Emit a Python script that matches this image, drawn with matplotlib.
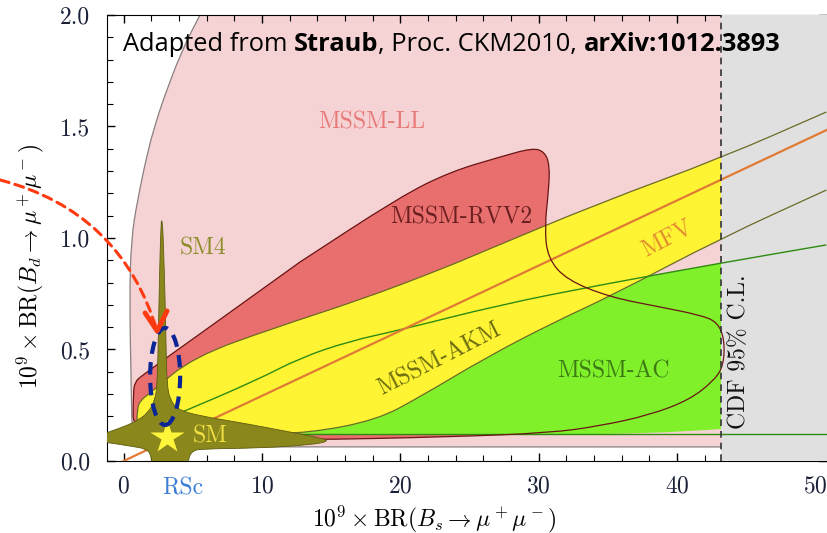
import matplotlib
matplotlib.use('Agg')
from matplotlib import pyplot as plt
from matplotlib.patches import PathPatch, Ellipse
from matplotlib.path import Path
from matplotlib.ticker import MultipleLocator, FormatStrFormatter

plt.rcParams['font.family'] = 'serif'
plt.rcParams['font.serif'] = ['cmr10']
plt.rcParams['mathtext.fontset'] = 'cm'
plt.rcParams['axes.formatter.use_mathtext'] = True

fontsize = 17
ticksize = 17

# x = 10^9 BR(Bs -> mu mu), y = 10^9 BR(Bd -> mu mu)
cdf_limit = 43.2

# MSSM-LL
ll_x = [60.0, 6.5, 5.52, 4.22, 2.85, 2.28, 1.77, 1.0, 0.54, 0.43, 0.54, 0.61, 0.90, 1.5, 60.0]
ll_y = [2.1, 2.1, 2.0, 1.843, 1.619, 1.507, 1.395, 1.17, 0.991, 0.722, 0.363, 0.117, 0.067, 0.063, 0.063]

# MSSM-RVV2
rvv_x = [12.74, 5.52, 1.26, 0.83, 0.69, 0.69, 12.74, 23.57, 30.79, 34.40, 38.01, 40.90, 42.71,
         43.36, 43.43, 42.93, 41.63, 38.74, 35.13, 32.02, 30.65, 30.43, 30.72, 30.79, 30.43,
         29.57, 27.18, 23.57, 19.96, 12.74]
rvv_y = [0.892, 0.570, 0.381, 0.354, 0.309, 0.094, 0.094, 0.108, 0.126, 0.157, 0.206, 0.274, 0.363,
         0.430, 0.543, 0.623, 0.655, 0.691, 0.735, 0.812, 0.910, 1.049, 1.215, 1.327, 1.386,
         1.404, 1.363, 1.296, 1.184, 0.892]

# MSSM-AC: upper edge, lower edge is flat
ac_x = [1.92, 4.08, 9.64, 12.74, 16.35, 19.96, 27.18, 34.40, 43.21, 50.79]
ac_y = [0.161, 0.215, 0.363, 0.462, 0.538, 0.587, 0.700, 0.789, 0.888, 0.969]
ac_bottom = 0.119

# MSSM-AKM + MFV band, outline starting at the upper right end
akm_x = [50.79, 43.21, 34.40, 26.25, 22.85, 17.08, 11.08, 5.02, 1.91, 1.26, 0.97, 0.97,
         1.91, 9.13, 13.47, 18.30, 21.41, 26.25, 31.00, 35.34, 43.21, 50.79]
akm_y = [1.565, 1.359, 1.157, 0.946, 0.857, 0.722, 0.601, 0.466, 0.305, 0.274, 0.238, 0.130,
         0.126, 0.121, 0.126, 0.184, 0.287, 0.466, 0.619, 0.744, 1.000, 1.215]

# MFV central line
mfv_x = [0.0, 50.8]
mfv_y = [0.0, 1.484]

# SM4 spike and SM blob
sm4_x = [-2.06, -0.25, 0.83, 1.77, 2.27, 2.42, 2.49, 2.56, 2.64, 2.71, 2.74, 2.82, 2.89,
         3.00, 3.07, 3.14, 3.36, 3.94, 5.52, 8.63, 12.02, 13.83, 14.98, 13.47, 9.86,
         5.52, 5.02, 4.73, 4.66, 2.06, 1.99, 1.70, 0.47, -0.97, -2.06]
sm4_y = [0.108, 0.148, 0.175, 0.215, 0.274, 0.341, 0.498, 0.722, 0.946, 1.058, 1.085, 1.058, 0.946,
         0.722, 0.498, 0.341, 0.274, 0.229, 0.202, 0.170, 0.130, 0.108, 0.090, 0.072, 0.058,
         0.054, 0.045, 0.022, -0.02, -0.02, 0.022, 0.054, 0.067, 0.081, 0.090]
sm_point = (3.14, 0.108)

# RS-c highlight and pointer
rsc_center = (3.0, 0.379)
rsc_size = (2.17, 0.435)
arrow_start = (-8.92, 1.26)
arrow_tip = (2.42, 0.583)
arrow_head_x = [1.55, 2.42, 3.14]
arrow_head_y = [0.664, 0.583, 0.673]


def smooth_path(xs, ys, closed=False):
    # quadratic curves through the midpoints, corners get rounded a bit
    pts = list(zip(xs, ys))
    if closed:
        pts = pts + [pts[0], pts[1]]
    mids = [((a[0] + b[0]) / 2, (a[1] + b[1]) / 2) for a, b in zip(pts[:-1], pts[1:])]
    if closed:
        verts = [mids[0]]
        codes = [Path.MOVETO]
    else:
        verts = [pts[0], mids[0]]
        codes = [Path.MOVETO, Path.LINETO]
    for i in range(1, len(pts) - 1):
        verts += [pts[i], mids[i]]
        codes += [Path.CURVE3, Path.CURVE3]
    if not closed:
        verts.append(pts[-1])
        codes.append(Path.LINETO)
    return Path(verts, codes)


fig = plt.figure(figsize=(8.27, 5.33), dpi=100)
ax = fig.add_axes([0.1294, 0.1351, 0.8700, 0.8368])
ax.set_xlim(-1.2, 50.8)
ax.set_ylim(0, 2.0)

ll_path = smooth_path(ll_x, ll_y)
ax.add_patch(PathPatch(ll_path, fc='#f5d2d3', ec='none', zorder=1))
ax.add_patch(PathPatch(smooth_path(ll_x[2:-1] + [cdf_limit], ll_y[2:-1] + [0.063]),
                       fill=False, ec='#8a8080', lw=0.9, zorder=1.5))

rvv_path = smooth_path(rvv_x, rvv_y, closed=True)
ax.add_patch(PathPatch(rvv_path, fc='#e96e6e', ec='none', zorder=2))

ac_path = smooth_path(ac_x, ac_y)
ac_fill = smooth_path(ac_x + [60.0, 60.0, ac_x[0], ac_x[0]],
                      ac_y + [ac_y[-1], ac_bottom, ac_bottom, ac_y[0]])
ax.add_patch(PathPatch(ac_fill, fc='#80f02b', ec='none', zorder=3))

akm_path = smooth_path(akm_x, akm_y)
ax.add_patch(PathPatch(akm_path, fc='#fff433', ec='none', zorder=4))

# excluded by CDF
ax.axvspan(cdf_limit, 60, color='#e0e0e0', zorder=5, lw=0)

ax.add_patch(PathPatch(akm_path, fill=False, ec='#6b6b25', lw=0.9, zorder=6))
ax.add_patch(PathPatch(ac_path, fill=False, ec='#2f8a12', lw=1.0, zorder=6))
ax.plot([ac_x[0], 60], [ac_bottom, ac_bottom], color='#2f8a12', lw=1.0, zorder=6)
ax.plot(mfv_x, mfv_y, color='#e07a35', lw=1.6, zorder=6)
ax.add_patch(PathPatch(rvv_path, fill=False, ec='#6a1414', lw=0.9, zorder=6))
ax.axvline(cdf_limit, color='#333333', lw=1.2, ls=(0, (4, 3)), zorder=7)

ax.add_patch(PathPatch(smooth_path(sm4_x, sm4_y, closed=True), fc='#8a881c', ec='#5e5c10',
                       lw=0.6, zorder=8))
ax.plot(*sm_point, marker='*', ms=25, color='#fff53a', mec='none', zorder=9)

ax.add_patch(Ellipse(rsc_center, *rsc_size, fill=False, ec='#0b2596', lw=3, ls=(0, (3, 2)), zorder=10))
ax.annotate('', xy=arrow_tip, xytext=arrow_start, annotation_clip=False,
            arrowprops=dict(arrowstyle='-', color='#ff3a10', lw=2.2, ls=(0, (3, 2)),
                            connectionstyle='arc3,rad=-0.28', shrinkA=0, shrinkB=0))
ax.plot(arrow_head_x, arrow_head_y, color='#ff3a10', lw=3.5, clip_on=False, zorder=11,
        solid_capstyle='round')

# region labels
ax.text(14.04, 1.52, 'MSSM-LL', color='#e87a7a', fontsize=fontsize, va='center', zorder=12)
ax.text(19.24, 1.09, 'MSSM-RVV2', color='#6a2020', fontsize=fontsize, va='center', zorder=12)
ax.text(39.3, 1.0, 'MFV', color='#e08a30', fontsize=fontsize, ha='center', va='center',
        rotation=28, zorder=12)
ax.text(22.85, 0.455, 'MSSM-AKM', color='#6b6b10', fontsize=fontsize, ha='center', va='center',
        rotation=27, zorder=12)
ax.text(31.3, 0.40, 'MSSM-AC', color='#3d7a14', fontsize=fontsize, va='center', zorder=12)
ax.text(44.5, 0.49, 'CDF 95% C.L.', color='#111111', fontsize=fontsize, ha='center', va='center',
        rotation=90, zorder=12)
ax.text(4.08, 0.955, 'SM4', color='#8c8c28', fontsize=fontsize, va='center', zorder=12)
ax.text(5.02, 0.108, 'SM', color='#f0e040', fontsize=fontsize, va='center', zorder=12)
ax.text(4.3, -0.121, 'RSc', color='#3a7fd5', fontsize=ticksize, ha='center', va='center', clip_on=False)

# credit line, mixed weights
credit = [('Adapted from ', 'normal'), ('Straub', 'bold'),
          (', Proc. CKM2010, ', 'normal'), ('arXiv:1012.3893', 'bold')]
prev = None
for txt, weight in credit:
    if prev is None:
        prev = ax.text(0.022, 0.906, txt, transform=ax.transAxes, family='Open Sans',
                       fontsize=18.3, fontweight=weight, va='bottom', zorder=12)
    else:
        prev = ax.annotate(txt, xy=(1, 0), xycoords=prev, family='Open Sans', fontsize=18.3,
                           fontweight=weight, va='bottom', zorder=12)

ax.set_xticks([0, 10, 20, 30, 40, 50])
ax.xaxis.set_minor_locator(MultipleLocator(2))
ax.set_yticks([0.0, 0.5, 1.0, 1.5, 2.0])
ax.yaxis.set_minor_locator(MultipleLocator(0.1))
ax.yaxis.set_major_formatter(FormatStrFormatter('%.1f'))
ax.tick_params(which='both', direction='in', top=True, right=True, labelsize=ticksize,
               labelcolor='#1a2038')
ax.tick_params(which='major', length=6, width=1)
ax.tick_params(which='minor', length=4, width=0.8)
ax.tick_params(axis='y', pad=12)
ax.tick_params(axis='x', pad=10)

ax.set_xlabel(r'$10^9 \times \mathrm{BR}(B_s \to \mu^+\mu^-)$', fontsize=fontsize)
ax.set_ylabel(r'$10^9 \times \mathrm{BR}(B_d \to \mu^+\mu^-)$', fontsize=fontsize)
ax.xaxis.set_label_coords(0.455, -0.095)
ax.yaxis.set_label_coords(-0.085, 0.437)

plt.savefig('out.png', dpi=100)
